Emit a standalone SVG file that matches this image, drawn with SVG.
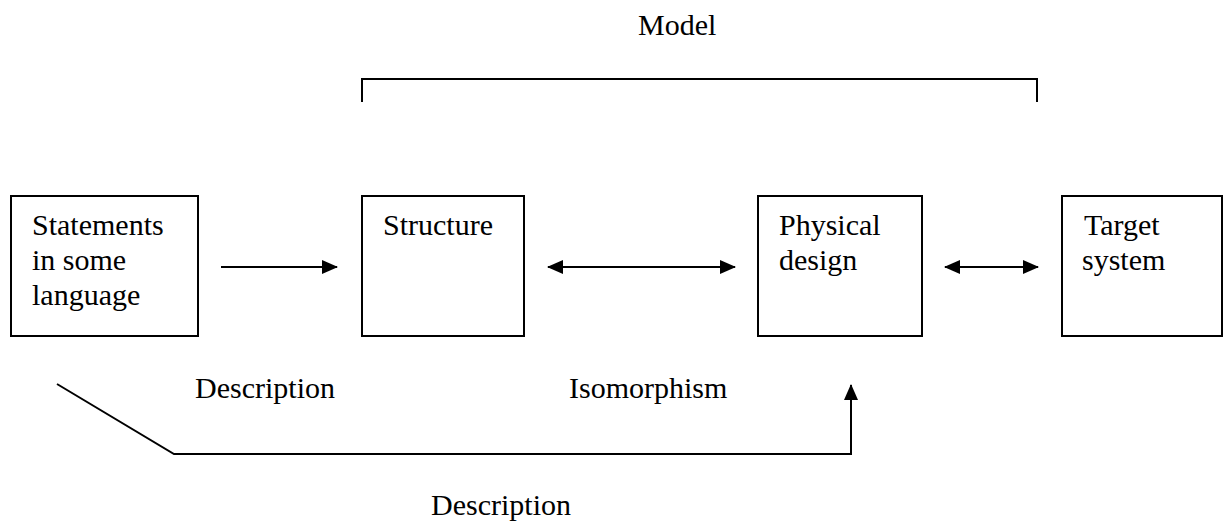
<svg xmlns="http://www.w3.org/2000/svg" width="1225" height="525" viewBox="0 0 1225 525">
<style>
.box{fill:#fff;stroke:#000;stroke-width:2}
.t{font-family:"Liberation Serif","Times New Roman",serif;font-size:30px;fill:#000}
.c{fill:none;stroke:#000;stroke-width:2}
</style>
<defs>
<marker id="ah" markerUnits="userSpaceOnUse" markerWidth="16" markerHeight="16" viewBox="0 0 16 16" refX="15" refY="8" orient="auto-start-reverse">
<path d="M0,1 L16,8 L0,15 Z" fill="#000"/>
</marker>
</defs>
<rect width="1225" height="525" fill="#fff"/>
<g id="model-label">
<text class="t" x="638" y="35">Model</text>
<path class="c" d="M362,102 L362,79 L1037,79 L1037,102"/>
</g>
<g id="statements">
<rect class="box" x="11" y="196" width="187" height="140"/>
<text class="t" x="32" y="235">Statements</text>
<text class="t" x="32" y="270">in some</text>
<text class="t" x="32" y="305">language</text>
</g>
<g id="structure">
<rect class="box" x="362" y="196" width="162" height="140"/>
<text class="t" x="383" y="235">Structure</text>
</g>
<g id="physical">
<rect class="box" x="758" y="196" width="164" height="140"/>
<text class="t" x="779" y="235">Physical</text>
<text class="t" x="779" y="270">design</text>
</g>
<g id="target">
<rect class="box" x="1062" y="196" width="160" height="140"/>
<text class="t" x="1084" y="235">Target</text>
<text class="t" x="1082" y="270">system</text>
</g>
<g id="connectors">
<line class="c" x1="221" y1="267" x2="337" y2="267" marker-end="url(#ah)"/>
<line class="c" x1="548" y1="267" x2="735" y2="267" marker-start="url(#ah)" marker-end="url(#ah)"/>
<line class="c" x1="945" y1="267" x2="1038" y2="267" marker-start="url(#ah)" marker-end="url(#ah)"/>
<path class="c" d="M57,384 L174,454 L851,454 L851,385" marker-end="url(#ah)"/>
</g>
<g id="labels">
<text class="t" x="195" y="398">Description</text>
<text class="t" x="569" y="398">Isomorphism</text>
<text class="t" x="431" y="515">Description</text>
</g>
</svg>
